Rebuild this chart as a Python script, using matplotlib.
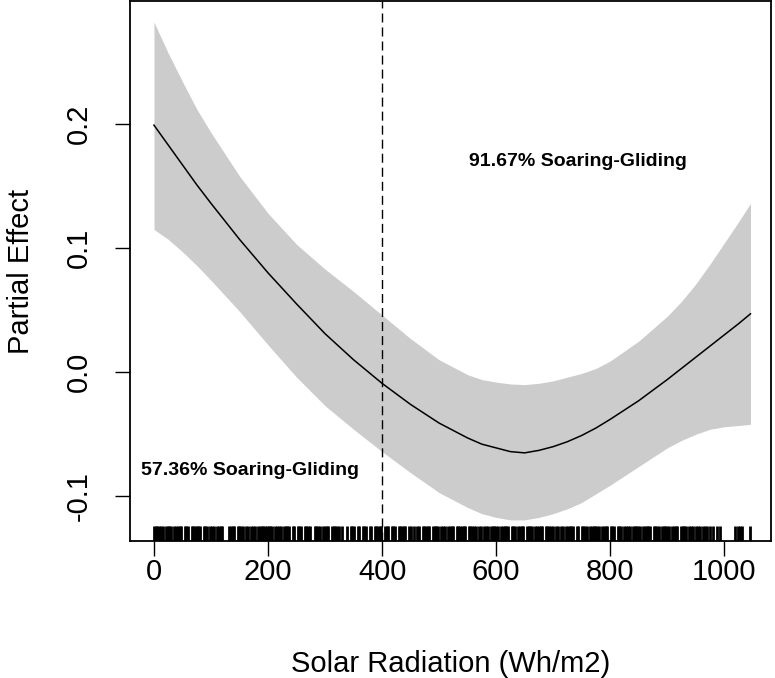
import matplotlib
matplotlib.use("Agg")
import matplotlib.pyplot as plt

plt.rcParams["font.family"] = ["Liberation Sans", "DejaVu Sans"]

# Smooth partial effect of solar radiation
SOLAR = [0, 25, 50, 75, 100, 150, 200, 250, 300, 350, 400, 450, 500, 550,
         575, 600, 625, 650, 675, 700, 725, 750, 775, 800, 850, 900, 925,
         950, 975, 1000, 1025, 1046]
FIT = [0.199, 0.183, 0.167, 0.151, 0.136, 0.107, 0.080, 0.055, 0.031,
       0.010, -0.009, -0.026, -0.041, -0.053, -0.058, -0.061, -0.064,
       -0.065, -0.063, -0.060, -0.056, -0.051, -0.045, -0.038, -0.023,
       -0.006, 0.003, 0.012, 0.021, 0.030, 0.039, 0.047]
UPPER = [0.282, 0.257, 0.234, 0.212, 0.193, 0.158, 0.128, 0.103, 0.083,
         0.065, 0.046, 0.027, 0.010, -0.002, -0.006, -0.008, -0.0095,
         -0.010, -0.009, -0.007, -0.004, -0.001, 0.003, 0.009, 0.025,
         0.045, 0.057, 0.071, 0.087, 0.104, 0.121, 0.136]
LOWER = [0.115, 0.107, 0.097, 0.086, 0.074, 0.049, 0.022, -0.004, -0.027,
         -0.046, -0.064, -0.081, -0.097, -0.109, -0.114, -0.117, -0.119,
         -0.119, -0.117, -0.114, -0.110, -0.105, -0.098, -0.091, -0.076,
         -0.061, -0.055, -0.050, -0.046, -0.044, -0.043, -0.042]

# Observed solar radiation values shown as the rug
RUG = [
    0, 3, 6, 9, 12, 15, 21, 24, 27, 30, 36, 39, 42, 45, 48, 54, 57, 60, 66,
    69, 72, 75, 78, 81, 87, 90, 93, 99,
    102, 105, 111, 114, 117, 120, 132, 135, 138, 141, 147, 150, 153, 156,
    162, 165, 171, 174, 177, 183, 186, 189, 192, 195, 198,
    201, 204, 207, 213, 216, 219, 222, 228, 231, 234, 237, 243, 246, 252,
    255, 258, 264, 267, 270, 273, 282, 285, 288, 291, 297,
    300, 303, 306, 312, 315, 318, 321, 324, 330, 339, 345, 348, 351, 357,
    360, 366, 369, 372, 378, 381, 387, 390, 393, 396, 399,
    405, 408, 411, 417, 420, 423, 429, 432, 435, 438, 441, 447, 450, 456,
    462, 465, 471, 474, 477, 480, 483, 489, 492, 495, 498,
    504, 507, 510, 516, 519, 522, 525, 531, 534, 537, 540, 543, 546, 552,
    555, 558, 561, 564, 570, 573, 579, 582, 585, 591, 594, 597,
    600, 603, 609, 612, 615, 618, 621, 627, 630, 633, 639, 642, 645, 648,
    654, 657, 660, 663, 669, 672, 675, 678, 681, 687, 690, 693, 696, 699,
    705, 708, 714, 717, 723, 726, 729, 732, 735, 741, 744, 750, 753, 756,
    759, 765, 768, 771, 774, 777, 780, 786, 789, 792, 795,
    801, 804, 807, 813, 816, 819, 825, 828, 831, 834, 840, 843, 846, 849,
    852, 858, 861, 864, 867, 870, 876, 879, 882, 885, 891, 894, 897,
    900, 903, 909, 912, 915, 918, 924, 927, 930, 933, 939, 942, 945, 951,
    954, 957, 963, 966, 969, 975, 981, 987, 993,
    1019, 1024, 1028, 1031, 1046,
]

THRESHOLD = 400
X_TICKS = [0, 200, 400, 600, 800, 1000]
Y_TICKS = [-0.1, 0.0, 0.1, 0.2]
Y_TICK_LABELS = ["-0.1", "0.0", "0.1", "0.2"]
LEFT_NOTE = "57.36% Soaring-Gliding"
RIGHT_NOTE = "91.67% Soaring-Gliding"

fig = plt.figure(figsize=(7.75, 6.78), dpi=100)
ax = fig.add_axes([130 / 775, 1 - 541 / 678, 641 / 775, 540 / 678])

ax.fill_between(SOLAR, LOWER, UPPER, color="#cccccc", linewidth=0)
ax.plot(SOLAR, FIT, color="black", linewidth=1.1)
ax.axvline(THRESHOLD, color="black", linewidth=1.0, dashes=(6.5, 3.6))

# rug along the bottom, in axes-fraction height like R's rug()
ax.vlines(RUG, 0, 0.027, transform=ax.get_xaxis_transform(),
          color="black", linewidth=2.0)

ax.text(168, -0.079, LEFT_NOTE, ha="center", va="center",
        fontsize=14, fontweight="bold")
ax.text(743, 0.170, RIGHT_NOTE, ha="center", va="center",
        fontsize=14, fontweight="bold")

ax.set_xlim(-42, 1082)
ax.set_ylim(-0.136, 0.299)
ax.set_xticks(X_TICKS)
ax.set_yticks(Y_TICKS)
ax.set_yticklabels(Y_TICK_LABELS, rotation=90, va="center")
ax.tick_params(axis="both", labelsize=21, length=11, width=1.0,
               direction="out")
ax.tick_params(axis="x", pad=1)
ax.tick_params(axis="y", pad=16)

for spine in ax.spines.values():
    spine.set_linewidth(1.3)

ax.set_xlabel("Solar Radiation (Wh/m2)", fontsize=21, labelpad=46)
ax.set_ylabel("Partial Effect", fontsize=21, labelpad=21)

fig.savefig("out.png", dpi=100)
